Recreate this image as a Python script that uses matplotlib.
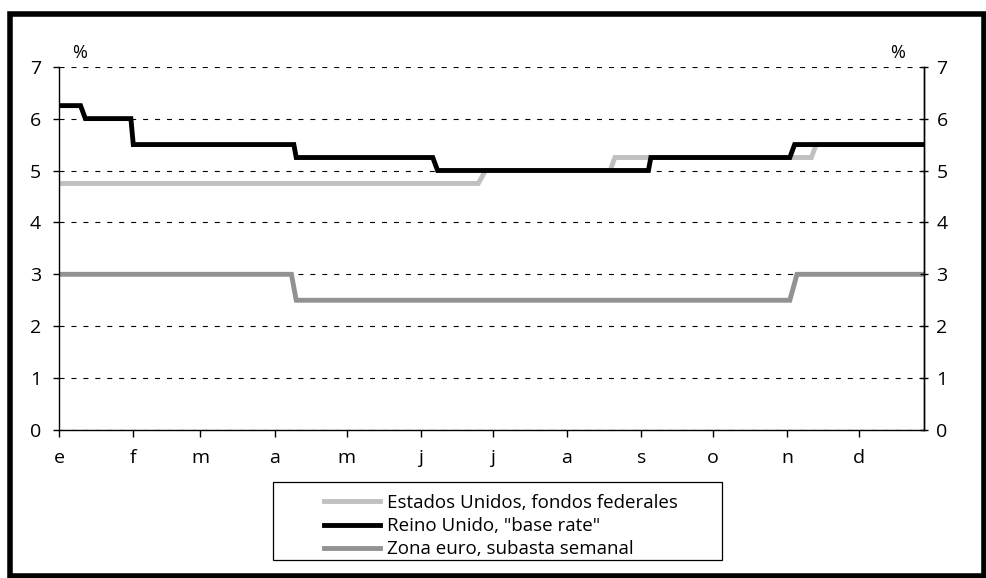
import pandas as pd
import matplotlib
matplotlib.use("Agg")
import matplotlib.pyplot as plt
import matplotlib.dates as mdates
from matplotlib.patches import Rectangle

plt.rcParams["font.family"] = ["Open Sans", "DejaVu Sans"]

# Data: dates where each line bends (last day at old rate, first day at new rate)
us_dates = ["1999-01-01", "1999-06-25", "1999-06-28", "1999-08-19", "1999-08-21",
            "1999-11-11", "1999-11-13", "1999-12-28"]
us_rates = [4.75, 4.75, 5.00, 5.00, 5.25, 5.25, 5.50, 5.50]

uk_dates = ["1999-01-01", "1999-01-10", "1999-01-12", "1999-01-31", "1999-02-01",
            "1999-04-09", "1999-04-10", "1999-06-06", "1999-06-08", "1999-09-04",
            "1999-09-05", "1999-11-02", "1999-11-04", "1999-12-28"]
uk_rates = [6.25, 6.25, 6.00, 6.00, 5.50, 5.50, 5.25, 5.25, 5.00, 5.00,
            5.25, 5.25, 5.50, 5.50]

eu_dates = ["1999-01-01", "1999-04-08", "1999-04-10", "1999-11-02", "1999-11-05",
            "1999-12-28"]
eu_rates = [3.0, 3.0, 2.5, 2.5, 3.0, 3.0]

month_labels = ["e", "f", "m", "a", "m", "j", "j", "a", "s", "o", "n", "d"]
series_labels = ["Estados Unidos, fondos federales", 'Reino Unido, "base rate"',
                 "Zona euro, subasta semanal"]

fig = plt.figure(figsize=(9.87, 5.78), dpi=100)
ax = fig.add_axes([59 / 987, 1 - 430 / 578, 865 / 987, (430 - 66.7) / 578])

ax.plot(pd.to_datetime(us_dates), us_rates, color="#c0c0c0", lw=3.5,
        solid_joinstyle="miter", label=series_labels[0])
ax.plot(pd.to_datetime(uk_dates), uk_rates, color="black", lw=3.5,
        solid_joinstyle="miter", label=series_labels[1])
ax.plot(pd.to_datetime(eu_dates), eu_rates, color="#929292", lw=3.5,
        solid_joinstyle="miter", label=series_labels[2])

ax.set_xlim(pd.Timestamp("1999-01-01"), pd.Timestamp("1999-12-28"))
ax.set_ylim(0, 7)
ax.set_yticks(range(0, 8))

ax.xaxis.set_major_locator(mdates.MonthLocator())
ax.set_xticks(pd.date_range("1999-01-01", periods=12, freq="MS"))
ax.set_xticklabels(month_labels)

ax.grid(axis="y", color="black", lw=0.8, linestyle=(0, (4.5, 6.25)))
ax.set_axisbelow(True)
for side in ["left", "bottom", "right"]:
    ax.spines[side].set_linewidth(1.0)
ax.spines["top"].set_visible(False)

ax.tick_params(axis="x", direction="out", length=5, width=1, pad=9, labelsize=14)
ax.tick_params(axis="y", direction="out", length=4, width=1, pad=9, labelsize=14)

# right axis with the same scale
ax2 = ax.twinx()
ax2.set_ylim(0, 7)
ax2.set_yticks(range(0, 8))
ax2.tick_params(axis="y", direction="inout", length=6, width=1, pad=6, labelsize=14)
for side in ["left", "bottom", "top"]:
    ax2.spines[side].set_visible(False)
ax2.spines["right"].set_linewidth(1.0)

fig.text(80 / 987, 1 - 53 / 578, "%", ha="center", va="center", fontsize=13)
fig.text(898 / 987, 1 - 53 / 578, "%", ha="center", va="center", fontsize=13)

# legend with its own box
handles, labels = ax.get_legend_handles_labels()
fig.legend(handles, labels, loc="upper left", bbox_to_anchor=(324 / 987, 1 - 494 / 578),
           frameon=False, borderaxespad=0, borderpad=0, handlelength=3.0,
           handletextpad=0.35, labelspacing=0.27, fontsize=13.5)
fig.add_artist(Rectangle((273 / 987, 1 - 560 / 578), 449 / 987, 78 / 578,
                         transform=fig.transFigure, fill=False, edgecolor="black", lw=0.9))

# outer frame
fig.add_artist(Rectangle((10.5 / 987, 2.5 / 578), 974 / 987, 561.5 / 578,
                         transform=fig.transFigure, fill=False, edgecolor="black", lw=4))

fig.savefig("out.png", dpi=100)
